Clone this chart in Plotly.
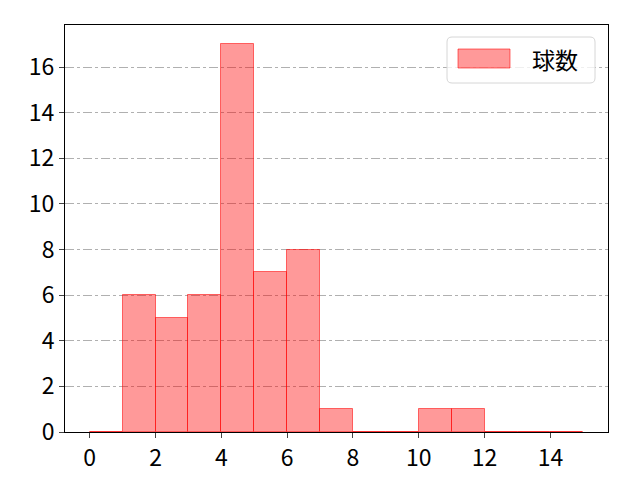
import plotly.graph_objects as go

bin_edges = list(range(0, 16))
counts = [0, 6, 5, 6, 17, 7, 8, 1, 0, 0, 1, 1, 0, 0, 0]
series_name = "球数"
x_ticks = [0, 2, 4, 6, 8, 10, 12, 14]
y_ticks = [0, 2, 4, 6, 8, 10, 12, 14, 16]

centers = [(bin_edges[i] + bin_edges[i + 1]) / 2 for i in range(len(counts))]
widths = [bin_edges[i + 1] - bin_edges[i] for i in range(len(counts))]

W, H = 640, 480
L, R, T, B = 57, 40, 17, 56
pw, ph = W - L - R, H - T - B

def px(x):
    return (x - L) / pw

def py(y):
    return (H - B - y) / ph

fill = "rgba(255,0,0,0.4)"
edge = "rgba(255,0,0,0.55)"

fig = go.Figure()
fig.add_trace(go.Bar(
    x=centers, y=counts, width=widths, name=series_name,
    marker=dict(color=fill, line=dict(color=edge, width=1)),
    showlegend=False,
))

font = "Noto Sans CJK JP, DejaVu Sans, sans-serif"
fs = 23

# manual legend (rounded box, wide swatch)
x0, x1, y0, y1 = 439, 587, 29, 75
r = 5
rx, ry = r / pw, r / ph
X0, X1, Y0, Y1 = px(x0), px(x1), py(y1), py(y0)
path = (f"M {X0+rx},{Y0} L {X1-rx},{Y0} Q {X1},{Y0} {X1},{Y0+ry} "
        f"L {X1},{Y1-ry} Q {X1},{Y1} {X1-rx},{Y1} L {X0+rx},{Y1} "
        f"Q {X0},{Y1} {X0},{Y1-ry} L {X0},{Y0+ry} Q {X0},{Y0} {X0+rx},{Y0} Z")
fig.add_shape(type="path", path=path, xref="paper", yref="paper",
              line=dict(color="#d6d6d6", width=1), fillcolor="rgba(255,255,255,0.8)")
fig.add_shape(type="rect", xref="paper", yref="paper",
              x0=px(450), x1=px(502), y0=py(60), y1=py(41),
              fillcolor=fill, line=dict(color=edge, width=1))
fig.add_annotation(x=px(522), y=py(51), xref="paper", yref="paper",
                   text=series_name, showarrow=False, xanchor="left", yanchor="middle",
                   font=dict(family=font, size=fs, color="black"))

fig.update_layout(
    width=W, height=H,
    margin=dict(l=L, r=R, t=T, b=B),
    plot_bgcolor="white", paper_bgcolor="white",
    font=dict(family=font, size=fs, color="black"),
    bargap=0,
    xaxis=dict(range=[-0.75, 15.75], tickvals=x_ticks, ticks="outside", ticklen=5,
               showline=True, linecolor="black", linewidth=1, mirror=True,
               showgrid=False, zeroline=False, tickfont=dict(size=fs)),
    yaxis=dict(range=[0, 17.85], tickvals=y_ticks, ticks="outside", ticklen=5,
               showline=True, linecolor="black", linewidth=1, mirror=True,
               showgrid=True, gridcolor="#b0b0b0", gridwidth=0.8, griddash="dashdot",
               zeroline=False, tickfont=dict(size=fs)),
    showlegend=False,
)

fig.write_html("out.html")
